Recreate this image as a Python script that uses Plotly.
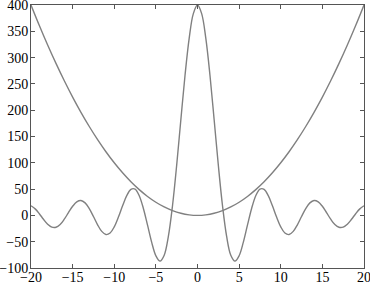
import plotly.graph_objects as go

# x positions read along the horizontal axis
x_sinc = [i * 0.5 for i in range(-40, 41)]
# oscillating curve values for x = 0, 0.5, ..., 20 (symmetric about x = 0)
sinc_right = [400.0, 383.6, 336.6, 266.0, 181.9, 95.8, 18.8, -40.1, -75.7, -86.9,
              -76.7, -51.3, -18.6, 13.2, 37.5, 50.0, 49.5, 37.6, 18.3, -3.2,
              -21.8, -33.5, -36.4, -30.4, -17.9, -2.1, 12.9, 23.8, 28.3, 25.8,
              17.3, 5.3, -7.2, -17.3, -22.6, -22.3, -16.7, -7.4, 3.2, 12.4, 18.3]
y_sinc = sinc_right[:0:-1] + sinc_right

x_parab = list(range(-20, 21))
y_parab = [400, 361, 324, 289, 256, 225, 196, 169, 144, 121, 100, 81, 64, 49, 36, 25,
           16, 9, 4, 1, 0, 1, 4, 9, 16, 25, 36, 49, 64, 81, 100, 121, 144, 169, 196,
           225, 256, 289, 324, 361, 400]

x_ticks = [-20, -15, -10, -5, 0, 5, 10, 15, 20]
y_ticks = [-100, -50, 0, 50, 100, 150, 200, 250, 300, 350, 400]

line_color = "#808080"

fig = go.Figure()
fig.add_trace(go.Scatter(x=x_parab, y=y_parab, mode="lines",
                         line=dict(color=line_color, width=1.4, shape="spline"),
                         showlegend=False, hoverinfo="skip"))
fig.add_trace(go.Scatter(x=x_sinc, y=y_sinc, mode="lines",
                         line=dict(color=line_color, width=1.4, shape="spline"),
                         showlegend=False, hoverinfo="skip"))

axis_common = dict(showgrid=False, zeroline=False, showline=True, linecolor="#555555",
                   linewidth=1, mirror="ticks", ticks="inside", ticklen=4,
                   tickcolor="#555555", tickwidth=1, ticklabeloverflow="allow",
                   automargin=False,
                   tickfont=dict(family='"Liberation Serif", serif',
                                 size=14, color="#000000"))

fig.update_xaxes(range=[-20, 20], tickvals=x_ticks, ticklabelstandoff=-4, **axis_common)
fig.update_yaxes(range=[-100, 400], tickvals=y_ticks, ticklabelstandoff=-1, **axis_common)

fig.update_layout(width=370, height=284,
                  font=dict(family='"Liberation Serif", serif'),
                  margin=dict(l=31, r=6, t=5, b=16),
                  paper_bgcolor="white", plot_bgcolor="white")

fig.write_html("out.html")
